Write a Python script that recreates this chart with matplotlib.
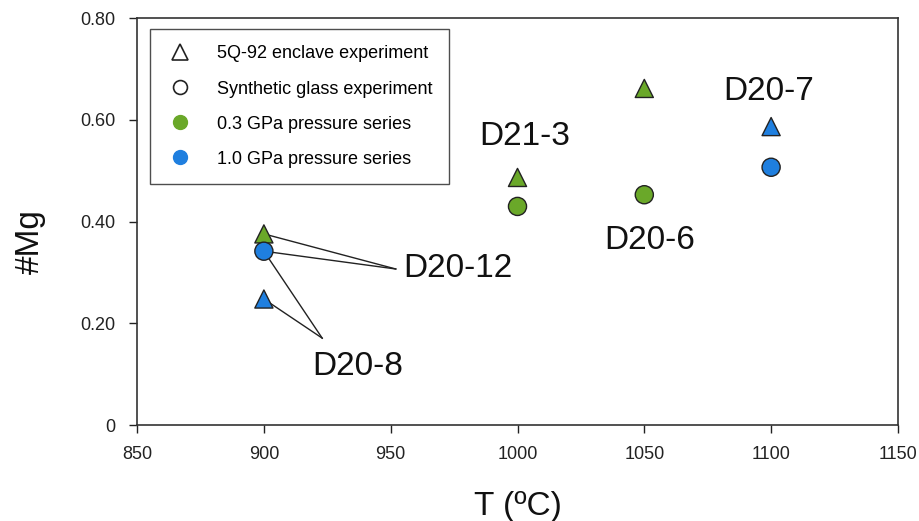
import matplotlib
matplotlib.use("Agg")
import matplotlib.pyplot as plt
from matplotlib.lines import Line2D

plt.rcParams['font.family'] = ['Liberation Sans', 'DejaVu Sans']

# Experimental #Mg values by temperature
green = '#6aa829'
blue = '#1f7fdf'

enclave_T = [900, 900, 1000, 1050, 1100]
enclave_mg = [0.376, 0.248, 0.487, 0.662, 0.587]
enclave_colors = [green, blue, green, green, blue]

glass_T = [900, 1000, 1050, 1100]
glass_mg = [0.342, 0.430, 0.453, 0.507]
glass_colors = [blue, green, green, blue]

# Sample labels placed beside their points
labels = ['D21-3', 'D20-6', 'D20-7']
label_x = [1003, 1052, 1099]
label_y = [0.567, 0.363, 0.656]

# Labels reached through leader lines
d2012_text = (955, 0.307)
d2012_anchor = (952, 0.307)
d208_text = (937, 0.116)
d208_anchor = (923, 0.171)

xticks = [850, 900, 950, 1000, 1050, 1100, 1150]
yticks = [0, 0.2, 0.4, 0.6, 0.8]
ytick_labels = ['0', '0.20', '0.40', '0.60', '0.80']

fig = plt.figure(figsize=(9.2, 5.21), dpi=100)
ax = fig.add_axes([0.149, 0.184, 0.827, 0.781])

# Leader lines drawn below markers
line_kw = dict(color='#222222', lw=1.0, zorder=1)
tx, ty = d2012_anchor
ax.plot([enclave_T[0], tx], [enclave_mg[0], ty], **line_kw)
ax.plot([glass_T[0], tx], [glass_mg[0], ty], **line_kw)
tx, ty = d208_anchor
ax.plot([glass_T[0], tx], [glass_mg[0], ty], **line_kw)
ax.plot([enclave_T[1], tx], [enclave_mg[1], ty], **line_kw)

ax.scatter(enclave_T, enclave_mg, marker='^', s=170, c=enclave_colors,
           edgecolors='#222222', linewidths=1.0, zorder=3)
ax.scatter(glass_T, glass_mg, marker='o', s=170, c=glass_colors,
           edgecolors='#222222', linewidths=1.0, zorder=3)

for t, x, y in zip(labels, label_x, label_y):
    ax.text(x, y, t, fontsize=24, ha='center', va='center', color='#111111')
ax.text(d2012_text[0], d2012_text[1], 'D20-12', fontsize=24, ha='left',
        va='center', color='#111111')
ax.text(d208_text[0], d208_text[1], 'D20-8', fontsize=24, ha='center',
        va='center', color='#111111')

ax.set_xlim(850, 1150)
ax.set_ylim(0, 0.8)
ax.set_xticks(xticks)
ax.set_yticks(yticks)
ax.set_yticklabels(ytick_labels)
ax.tick_params(axis='both', direction='out', length=6, width=1, labelsize=13,
               colors='#222222')
ax.tick_params(axis='x', pad=9)
ax.tick_params(axis='y', pad=9.5)
for sp in ax.spines.values():
    sp.set_linewidth(1.2)
    sp.set_color('#333333')

ax.set_xlabel('T (ºC)', fontsize=24, labelpad=20, color='#111111')
ax.set_ylabel('#Mg', fontsize=24, color='#111111')
ax.yaxis.set_label_coords(-0.12, 0.45)

handles = [
    Line2D([], [], marker='^', ls='none', markersize=12, markerfacecolor='white',
           markeredgecolor='#222222', markeredgewidth=1.2),
    Line2D([], [], marker='o', ls='none', markersize=10, markerfacecolor='white',
           markeredgecolor='#222222', markeredgewidth=1.2),
    Line2D([], [], marker='o', ls='none', markersize=10, markerfacecolor=green,
           markeredgecolor=green),
    Line2D([], [], marker='o', ls='none', markersize=10, markerfacecolor=blue,
           markeredgecolor=blue),
]
leg_labels = ['5Q-92 enclave experiment', 'Synthetic glass experiment',
              '0.3 GPa pressure series', '1.0 GPa pressure series']
leg = ax.legend(handles, leg_labels, loc='upper left', bbox_to_anchor=(0.017, 0.973),
                fontsize=13, frameon=True, fancybox=False, labelspacing=1.0,
                handletextpad=1.3, borderpad=0.9, borderaxespad=0,
                handlelength=1.5)
leg.get_frame().set_edgecolor('#222222')
leg.get_frame().set_linewidth(1.0)

fig.savefig('out.png', dpi=100)
